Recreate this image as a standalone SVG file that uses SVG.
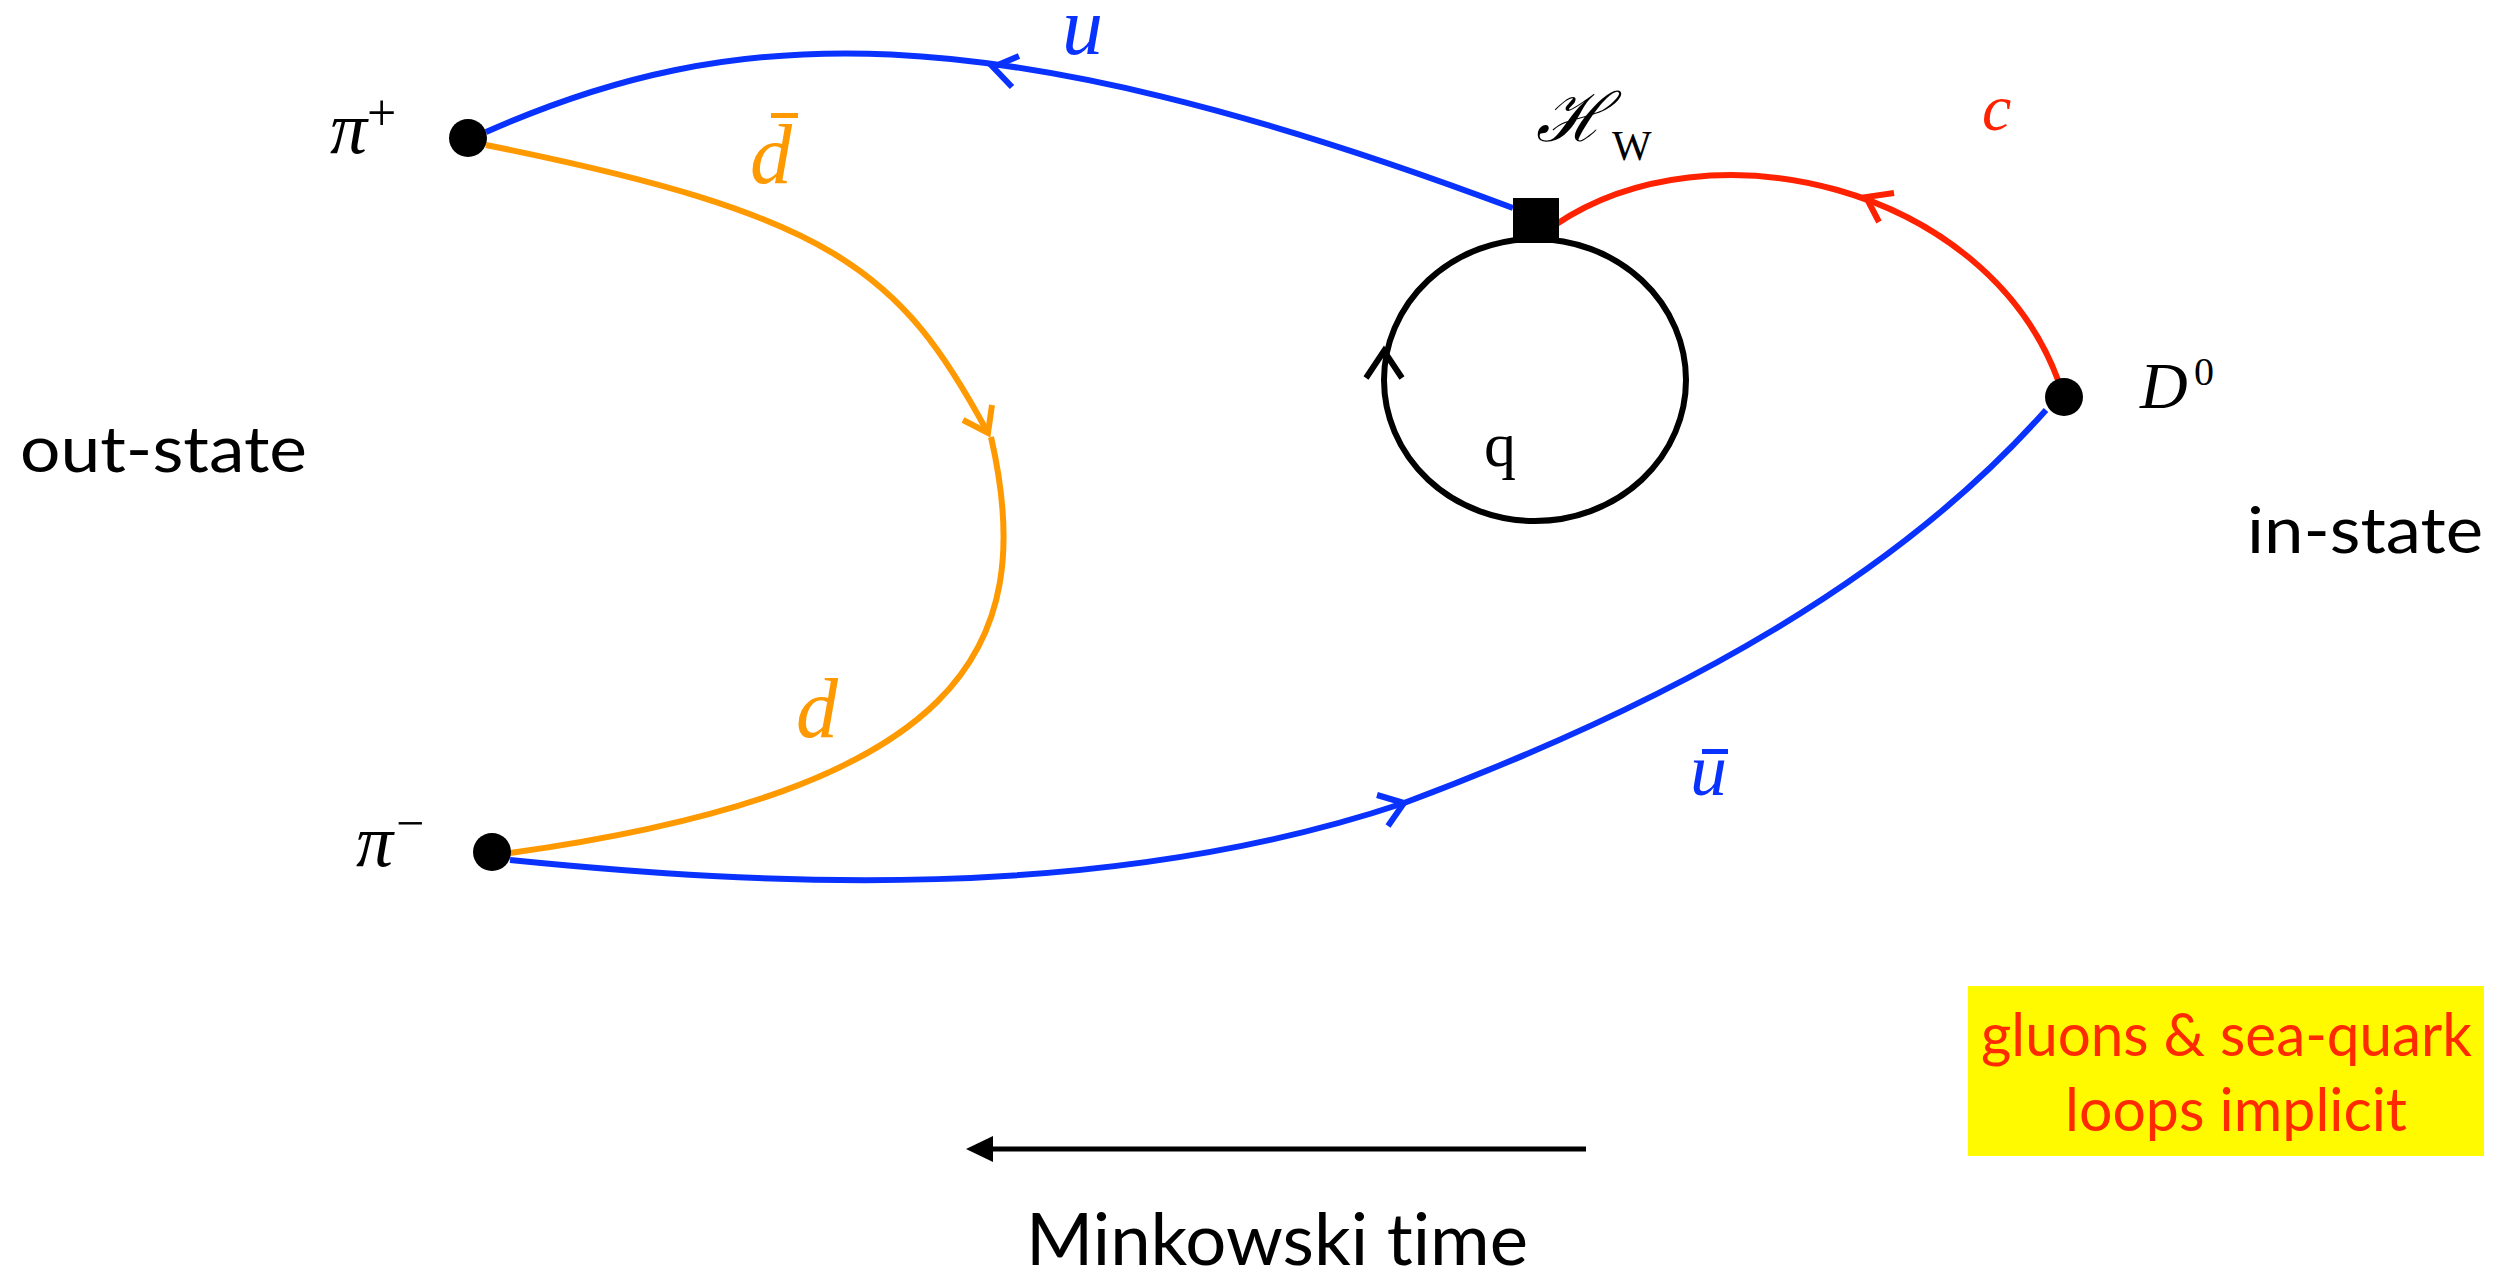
<svg xmlns="http://www.w3.org/2000/svg" width="2520" height="1275" viewBox="0 0 2520 1275">
<style>
.ln{fill:none;stroke-width:6;stroke-linecap:butt;stroke-linejoin:miter}
.bl{stroke:#0A32FF}
.or{stroke:#FF9900}
.rd{stroke:#FF2200}
.bk{stroke:#000}
.dot{fill:#000}
.math{font-family:"Liberation Serif","Times New Roman",serif;font-style:italic}
.rm{font-family:"Liberation Serif","Times New Roman",serif}
.sans{font-family:Lato,"Liberation Sans",sans-serif;font-variant-ligatures:none}
</style>
<rect width="2520" height="1275" fill="#fff"/>

<g id="connectors">
<path id="u-line" class="ln bl" d="M1513,208 C980,8 730,24 486,132"/>
<path class="ln bl" d="M1019,56 L993,67 L1012,87"/>
<path id="dbar-line" class="ln or" d="M486,145 C834,215 900,270 988,433"/>
<path class="ln or" d="M992,405 L988,433 L963,420"/>
<path id="d-line" class="ln or" d="M991,437 C1040,650 960,790 510,853"/>
<path id="ubar-line" class="ln bl" d="M510,860 C760,885 1100,905 1404,803 C1680,700 1900,575 2046,410"/>
<path class="ln bl" d="M1377,795 L1404,803 L1388,826"/>
<path id="c-line" class="ln rd" d="M1555,225 C1710,120 1985,185 2058,380"/>
<path class="ln rd" d="M1894,193 L1866,197 L1879,222"/>
<ellipse id="q-loop" class="ln bk" cx="1535" cy="380" rx="151" ry="141"/>
<path class="ln bk" d="M1366,378 L1384,351 L1402,378"/>
<line x1="1586" y1="1149" x2="990" y2="1149" stroke="#000" stroke-width="5"/>
<path d="M966,1149 L993,1136 L993,1162 Z" fill="#000"/>
</g>

<g id="pi-plus">
<circle class="dot" cx="468" cy="138" r="19"/>
<text class="math" x="330" y="153" font-size="74">π</text>
<text class="rm" x="367" y="130" font-size="52">+</text>
</g>

<g id="pi-minus">
<circle class="dot" cx="492" cy="852" r="19"/>
<text class="math" x="356" y="866" font-size="74">π</text>
<text class="rm" x="396" y="840" font-size="50">−</text>
</g>

<g id="D0">
<circle class="dot" cx="2064" cy="397" r="19"/>
<text class="math" x="2140" y="408" font-size="66">D</text>
<text class="rm" x="2194" y="385" font-size="40">0</text>
</g>

<g id="HW">
<rect x="1513" y="198" width="46" height="45" fill="#000"/>
<text x="1536" y="141" font-size="68" font-family="'DejaVu Serif',serif" font-style="italic">ℋ</text>
<text class="rm" x="1612" y="160" font-size="42">W</text>
</g>

<g id="labels">
<text class="math" x="1062" y="54" font-size="82" fill="#0A32FF">u</text>
<text class="math" x="1982" y="130" font-size="66" fill="#FF2200">c</text>
<text class="math" x="750" y="183" font-size="84" fill="#FF9900">d</text>
<rect x="771" y="113" width="27" height="5" fill="#FF9900"/>
<text class="math" x="796" y="737" font-size="84" fill="#FF9900">d</text>
<text class="math" x="1690" y="795" font-size="74" fill="#0A32FF">u</text>
<rect x="1702" y="749" width="26" height="5" fill="#0A32FF"/>
<text class="rm" x="1484" y="466" font-size="64">q</text>
</g>

<g id="out-state">
<text class="sans" x="20" y="472" font-size="64" textLength="287" lengthAdjust="spacingAndGlyphs">out-state</text>
</g>
<g id="in-state">
<text class="sans" x="2247" y="553" font-size="64" textLength="236" lengthAdjust="spacingAndGlyphs">in-state</text>
</g>
<g id="time">
<text class="sans" x="1026" y="1265" font-size="72" textLength="502" lengthAdjust="spacingAndGlyphs">Minkowski time</text>
</g>
<g id="note">
<rect x="1968" y="986" width="516" height="170" fill="#FFFA00"/>
<text class="sans" x="1981" y="1056" font-size="60" fill="#FF2A00" textLength="491" lengthAdjust="spacingAndGlyphs">gluons &amp; sea-quark</text>
<text class="sans" x="2065" y="1131" font-size="60" fill="#FF2A00" textLength="342" lengthAdjust="spacingAndGlyphs">loops implicit</text>
</g>
</svg>
